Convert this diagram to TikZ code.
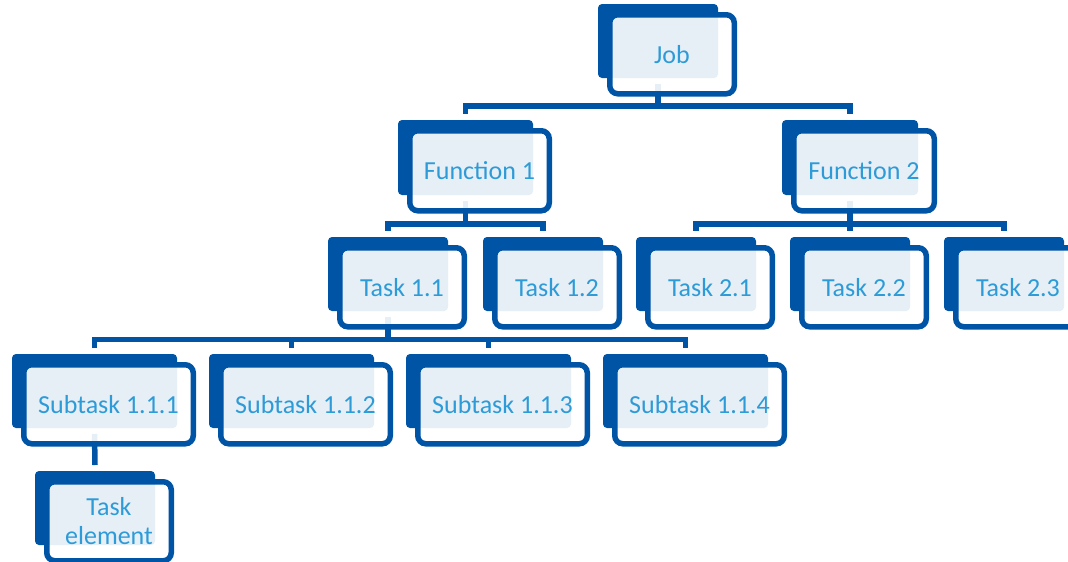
\documentclass[tikz,border=0pt]{standalone}
\usepackage{fontspec}
\setmainfont{Carlito}
\usetikzlibrary{calc}
\definecolor{dkblue}{RGB}{0,84,166}
\definecolor{txtblue}{RGB}{45,155,215}
\pgfdeclarelayer{background}
\pgfsetlayers{background,main}
\tikzset{
  backbox/.style={fill=dkblue, rounded corners=4pt, inner sep=0pt, outer sep=0pt},
  frontbox/.style={fill=white, fill opacity=0.9, text opacity=1, draw=dkblue, draw opacity=1,
    line width=5.5pt, rounded corners=8pt, inner sep=0pt, outer sep=0pt, text=txtblue,
    font=\fontsize{26}{29}\selectfont, align=center},
  conn/.style={draw=dkblue, line width=5.5pt, line join=miter},
}
\newcommand\mkunit[6]{%
  \node[backbox, minimum width=#4-#2, minimum height=#5-#3] (#1B) at ({(#2+#4)/2},{(#3+#5)/2}) {};
  \node[frontbox, minimum width=#4-#2+4.5, minimum height=#5-#3+5] (#1) at ({(#2+#4)/2+14},{(#3+#5)/2+13.25}) {#6};
}
\begin{document}
\begin{tikzpicture}[x=1pt,y=-1pt]
\useasboundingbox (0,0) rectangle (1068,562);
\clip (0,0) rectangle (1068,562);
\mkunit{job}{598}{4}{718}{78}{Job}
\mkunit{fa}{398}{120}{533}{195}{Function 1}
\mkunit{fb}{782}{120}{918}{195}{Function 2}
\mkunit{taa}{328}{237}{448}{311}{Task 1.1}
\mkunit{tab}{483}{237}{603}{311}{Task 1.2}
\mkunit{tba}{636}{237}{756}{311}{Task 2.1}
\mkunit{tbb}{790}{237}{910}{311}{Task 2.2}
\mkunit{tbc}{944}{237}{1064}{311}{Task 2.3}
\mkunit{saa}{12}{354}{177}{428}{Subtask 1.1.1}
\mkunit{sab}{209}{354}{374}{428}{Subtask 1.1.2}
\mkunit{sac}{406}{354}{571}{428}{Subtask 1.1.3}
\mkunit{sad}{603}{354}{768}{428}{Subtask 1.1.4}
\mkunit{te}{35}{471}{155}{545}{Task\\element}
\coordinate (bar0) at (0,106);
\coordinate (bar1) at (0,224);
\coordinate (bar2) at (0,339.5);
\begin{pgfonlayer}{background}
  % Job -> functions
  \draw[conn] ($(jobB.south)+(0,6)$) -- (jobB.south |- bar0);
  \draw[conn] ($(faB.north)+(0,-6)$) -- (faB.north |- bar0) -- (fbB.north |- bar0) -- ($(fbB.north)+(0,-6)$);
  % Function 1 -> tasks
  \draw[conn] ($(faB.south)+(0,6)$) -- (faB.south |- bar1);
  \draw[conn] ($(taaB.north)+(0,-6)$) -- (taaB.north |- bar1) -- (tabB.north |- bar1) -- ($(tabB.north)+(0,-6)$);
  % Function 2 -> tasks
  \draw[conn] ($(fbB.south)+(0,6)$) -- (fbB.south |- bar1);
  \draw[conn] ($(tbaB.north)+(0,-6)$) -- (tbaB.north |- bar1) -- (tbcB.north |- bar1) -- ($(tbcB.north)+(0,-6)$);
  \draw[conn] (tbbB.north |- bar1) -- ($(tbbB.north)+(0,-6)$);
  % Task 1.1 -> subtasks
  \draw[conn] ($(taaB.south)+(0,6)$) -- (taaB.south |- bar2);
  \draw[conn] ($(saaB.north)+(0,-6)$) -- (saaB.north |- bar2) -- (sadB.north |- bar2) -- ($(sadB.north)+(0,-6)$);
  \draw[conn] (sabB.north |- bar2) -- ($(sabB.north)+(0,-6)$);
  \draw[conn] (sacB.north |- bar2) -- ($(sacB.north)+(0,-6)$);
  % Subtask 1.1.1 -> task element
  \draw[conn] ($(saaB.south)+(0,6)$) -- ($(teB.north)+(0,-6)$);
\end{pgfonlayer}
\end{tikzpicture}
\end{document}
